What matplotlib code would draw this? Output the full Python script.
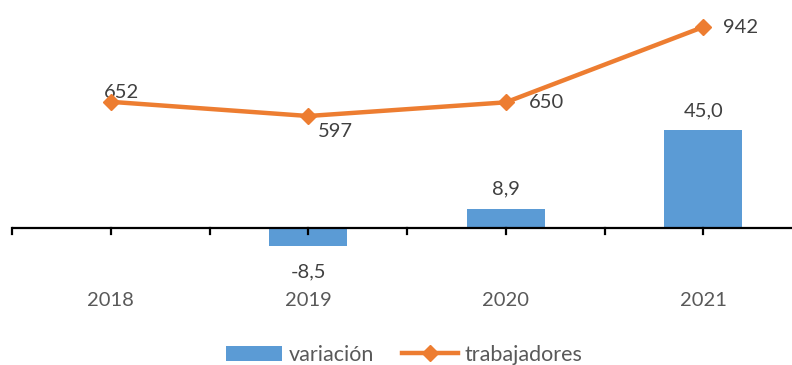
import matplotlib.pyplot as plt
from matplotlib.lines import Line2D
from matplotlib.patches import Patch

years = ["2018", "2019", "2020", "2021"]
variacion = [None, -8.5, 8.9, 45.0]
trabajadores = [652, 597, 650, 942]

bar_color = "#5B9BD5"
line_color = "#ED7D31"
plt.rcParams["font.family"] = ["Lato", "DejaVu Sans"]

W, H = 792, 365
fig = plt.figure(figsize=(W / 100, H / 100), dpi=100)

# axes rect in pixels: left 12, right 802 (runs past the edge), top 10, bottom 300
left, right, top, bottom = 12, 802, 10, 300
rect = [left / W, 1 - bottom / H, (right - left) / W, (bottom - top) / H]
ax = fig.add_axes(rect)
ax2 = ax.twinx()

x = list(range(len(years)))
bx = [i for i, v in zip(x, variacion) if v is not None]
bv = [v for v in variacion if v is not None]
ax.bar(bx, bv, width=0.395, color=bar_color, zorder=2)
ax.set_xlim(-0.5, 3.5)
ax.set_ylim(-33.2, 100.5)
ax.axhline(0, color="black", lw=1.6, zorder=3)

# tick marks at category centres and boundaries, hanging below the zero line
for t in [i * 0.5 - 0.5 for i in range(9)]:
    ax.plot([t, t], [0, -2.6], color="black", lw=1.6, zorder=3, clip_on=False)

for xi, v in zip(bx, bv):
    label = f"{v:.1f}".replace(".", ",")
    if v >= 0:
        ax.annotate(label, (xi, v), xytext=(0, 8), textcoords="offset points",
                    ha="center", va="bottom", fontsize=14.5, color="#404040")
    else:
        ax.annotate(label, (xi, v), xytext=(0, -12), textcoords="offset points",
                    ha="center", va="top", fontsize=14.5, color="#404040")

for xi, yr in zip(x, years):
    ax.text(xi, -33.2, yr, ha="center", va="center", fontsize=14.5, color="#595959")

ax2.plot(x, trabajadores, color=line_color, lw=3.2, marker="D", markersize=8,
         zorder=4)
ax2.set_ylim(-116.2, 1007.9)

offsets = [(8, 6.5), (19.5, -11), (29, 0), (27, 0)]
for xi, v, off in zip(x, trabajadores, offsets):
    ax2.annotate(str(v), (xi, v), xytext=off, textcoords="offset points",
                 ha="center", va="center", fontsize=14.5, color="#404040")

for a in (ax, ax2):
    a.set_xticks([])
    a.set_yticks([])
    for s in a.spines.values():
        s.set_visible(False)

handles = [Patch(facecolor=bar_color, edgecolor="none"),
           Line2D([0], [0], color=line_color, lw=3.2, marker="D", markersize=8)]
fig.legend(handles, ["variación", "trabajadores"], loc="center",
           bbox_to_anchor=(404 / W, 1 - 355 / H), ncol=2, frameon=False,
           fontsize=15.5, handlelength=2.6, handletextpad=0.3, columnspacing=1.3,
           labelcolor="#595959")

fig.savefig("out.png", dpi=100)
